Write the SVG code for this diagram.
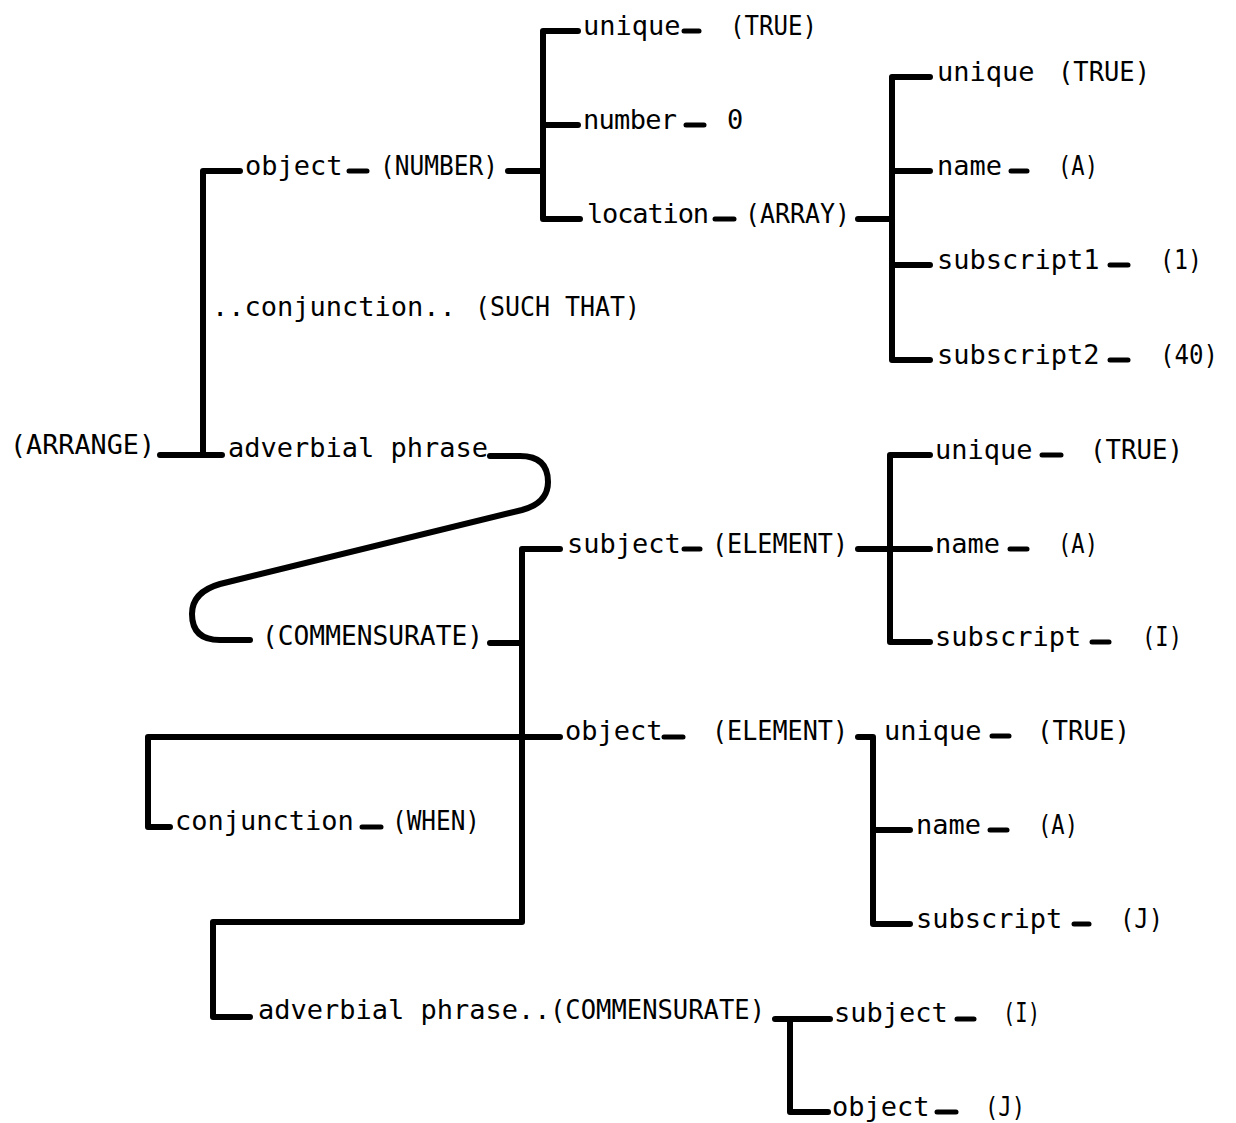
<svg xmlns="http://www.w3.org/2000/svg" width="1236" height="1123" viewBox="0 0 1236 1123">
<style>
text{font-family:"DejaVu Sans Mono","Liberation Mono",monospace;font-size:27px;fill:#000}
.c{stroke:#000;stroke-width:6;fill:none;stroke-linecap:round;stroke-linejoin:round}
.bar{stroke:#000;stroke-width:5;stroke-linecap:round}
</style>
<rect width="1236" height="1123" fill="#fff"/>
<g id="connectors">
<path class="c" d="M508,171 H543 M543,31 V219 M543,31 H578 M543,125 H578 M543,219 H580"/>
<path class="c" d="M858,219 H892 M892,77 V360 M892,77 H930 M892,171 H930 M892,265 H930 M892,360 H930"/>
<path class="c" d="M203,171 V455 M203,171 H240 M160,455 H222"/>
<path class="c" d="M490,456 H520 Q548,456 548,482 Q548,503 522,510 L220,584 Q192,592 192,614 Q192,640 220,640 H250"/>
<path class="c" d="M490,643 H522 M522,549 V922 M522,549 H560 M148,737 H560 M148,737 V827 H170 M522,922 H213 V1017 H250"/>
<path class="c" d="M890,455 V642 M890,455 H930 M858,549 H930 M890,642 H930"/>
<path class="c" d="M858,737 H873 V924 H910 M873,830 H910"/>
<path class="c" d="M775,1019 H830 M790,1019 V1112 H828"/>
</g>
<g id="n-arrange"><text x="10" y="454" textLength="145" lengthAdjust="spacingAndGlyphs">(ARRANGE)</text></g>
<g id="n-object-number"><text x="245" y="175">object</text><line class="bar" x1="349" y1="171" x2="367" y2="171"/><text x="380" y="175" textLength="118" lengthAdjust="spacingAndGlyphs">(NUMBER)</text></g>
<g id="n-unique-1"><text x="583" y="35">unique</text><line class="bar" x1="684" y1="31" x2="699" y2="31"/><text x="730" y="35" textLength="87" lengthAdjust="spacingAndGlyphs">(TRUE)</text></g>
<g id="n-number"><text x="583" y="129" textLength="94">number</text><line class="bar" x1="686" y1="125" x2="704" y2="125"/><text x="727" y="129">0</text></g>
<g id="n-location"><text x="587" y="223" textLength="122">location</text><line class="bar" x1="715" y1="219" x2="734" y2="219"/><text x="745" y="223" textLength="105" lengthAdjust="spacingAndGlyphs">(ARRAY)</text></g>
<g id="n-unique-2"><text x="937" y="81">unique</text><text x="1058" y="81" textLength="92" lengthAdjust="spacingAndGlyphs">(TRUE)</text></g>
<g id="n-name-1"><text x="937" y="175">name</text><line class="bar" x1="1011" y1="171" x2="1027" y2="171"/><text x="1058" y="175" textLength="40" lengthAdjust="spacingAndGlyphs">(A)</text></g>
<g id="n-subscript1"><text x="937" y="269">subscript1</text><line class="bar" x1="1110" y1="265" x2="1128" y2="265"/><text x="1160" y="269" textLength="42" lengthAdjust="spacingAndGlyphs">(1)</text></g>
<g id="n-subscript2"><text x="937" y="364">subscript2</text><line class="bar" x1="1110" y1="360" x2="1128" y2="360"/><text x="1160" y="364" textLength="58" lengthAdjust="spacingAndGlyphs">(40)</text></g>
<g id="n-conj-such"><text x="212" y="316">..conjunction..</text><text x="475" y="316" textLength="165" lengthAdjust="spacingAndGlyphs">(SUCH THAT)</text></g>
<g id="n-adv-1"><text x="228" y="457">adverbial phrase</text></g>
<g id="n-commensurate-1"><text x="262" y="645" textLength="221" lengthAdjust="spacingAndGlyphs">(COMMENSURATE)</text></g>
<g id="n-subject-element"><text x="567" y="553">subject</text><line class="bar" x1="684" y1="549" x2="700" y2="549"/><text x="712" y="553" textLength="136" lengthAdjust="spacingAndGlyphs">(ELEMENT)</text></g>
<g id="n-unique-3"><text x="935" y="459">unique</text><line class="bar" x1="1042" y1="455" x2="1061" y2="455"/><text x="1090" y="459" textLength="93" lengthAdjust="spacingAndGlyphs">(TRUE)</text></g>
<g id="n-name-2"><text x="935" y="553">name</text><line class="bar" x1="1010" y1="549" x2="1027" y2="549"/><text x="1058" y="553" textLength="40" lengthAdjust="spacingAndGlyphs">(A)</text></g>
<g id="n-subscript-i"><text x="935" y="646">subscript</text><line class="bar" x1="1092" y1="642" x2="1109" y2="642"/><text x="1142" y="646" textLength="40" lengthAdjust="spacingAndGlyphs">(I)</text></g>
<g id="n-object-element"><text x="565" y="740">object</text><line class="bar" x1="664" y1="737" x2="683" y2="737"/><text x="712" y="740" textLength="136" lengthAdjust="spacingAndGlyphs">(ELEMENT)</text></g>
<g id="n-unique-4"><text x="884" y="740">unique</text><line class="bar" x1="992" y1="736" x2="1009" y2="736"/><text x="1037" y="740" textLength="93" lengthAdjust="spacingAndGlyphs">(TRUE)</text></g>
<g id="n-name-3"><text x="916" y="834">name</text><line class="bar" x1="990" y1="830" x2="1007" y2="830"/><text x="1038" y="834" textLength="40" lengthAdjust="spacingAndGlyphs">(A)</text></g>
<g id="n-subscript-j"><text x="916" y="928">subscript</text><line class="bar" x1="1074" y1="924" x2="1089" y2="924"/><text x="1120" y="928" textLength="43" lengthAdjust="spacingAndGlyphs">(J)</text></g>
<g id="n-conj-when"><text x="175" y="830">conjunction</text><line class="bar" x1="362" y1="827" x2="381" y2="827"/><text x="392" y="830" textLength="88" lengthAdjust="spacingAndGlyphs">(WHEN)</text></g>
<g id="n-adv-2"><text x="258" y="1019">adverbial phrase..</text><text x="550" y="1019" textLength="215" lengthAdjust="spacingAndGlyphs">(COMMENSURATE)</text></g>
<g id="n-subject-i"><text x="834" y="1022">subject</text><line class="bar" x1="957" y1="1019" x2="974" y2="1019"/><text x="1003" y="1022" textLength="37" lengthAdjust="spacingAndGlyphs">(I)</text></g>
<g id="n-object-j"><text x="832" y="1116">object</text><line class="bar" x1="937" y1="1112" x2="956" y2="1112"/><text x="985" y="1116" textLength="40" lengthAdjust="spacingAndGlyphs">(J)</text></g>
</svg>
